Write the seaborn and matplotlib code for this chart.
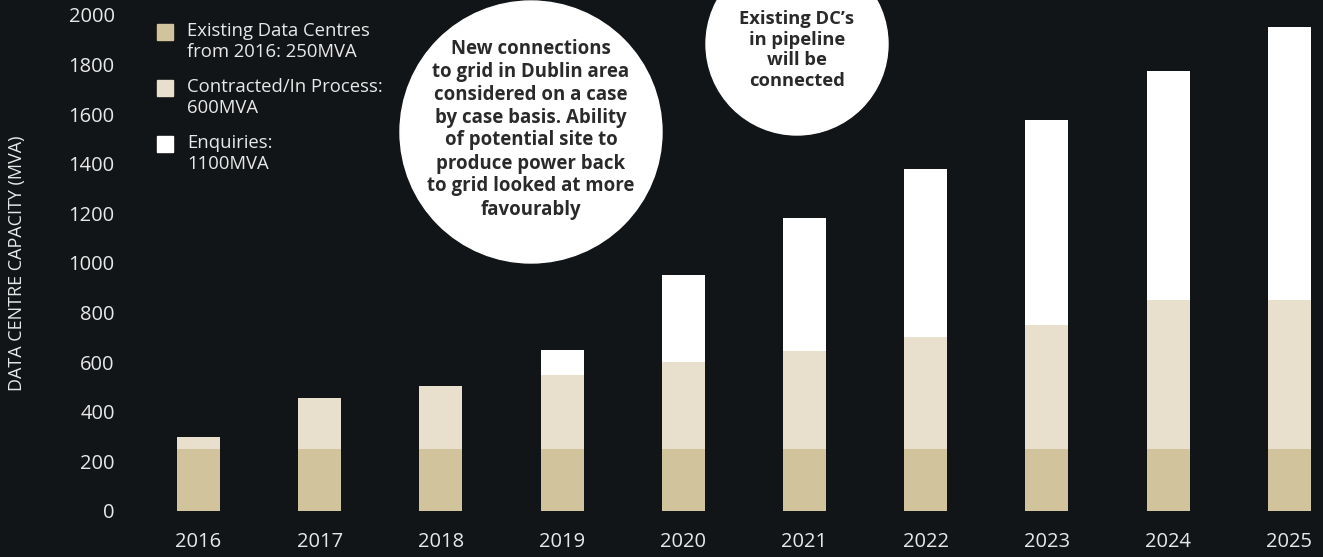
import matplotlib.pyplot as plt
import seaborn as sns
import pandas as pd
from matplotlib.patches import Circle, Rectangle

# values (MVA)
years = ['2016', '2017', '2018', '2019', '2020', '2021', '2022', '2023', '2024', '2025']
existing = [250, 250, 250, 250, 250, 250, 250, 250, 250, 250]
contracted = [50, 205, 255, 300, 350, 395, 450, 500, 600, 600]
enquiries = [0, 0, 0, 100, 350, 535, 680, 825, 925, 1100]

legend_labels = ['Existing Data Centres\nfrom 2016: 250MVA',
                 'Contracted/In Process:\n600MVA',
                 'Enquiries:\n1100MVA']
note_big = ('New connections\nto grid in Dublin area\nconsidered on a case\n'
            'by case basis. Ability\nof potential site to\nproduce power back\n'
            'to grid looked at more\nfavourably')
note_small = "Existing DC\u2019s\nin pipeline\nwill be\nconnected"

bg = '#121517'
c_exist = '#d1c39b'
c_contr = '#e8e0cd'
c_enq = '#ffffff'
txt = '#e8e8e8'

df = pd.DataFrame({'year': years, 'existing': existing,
                   'contracted': contracted, 'enquiries': enquiries})
df['lvl2'] = df['existing'] + df['contracted']
df['lvl3'] = df['lvl2'] + df['enquiries']

sns.set_style('dark', {'axes.facecolor': bg, 'figure.facecolor': bg})
plt.rcParams['font.family'] = ['Open Sans', 'DejaVu Sans']

W, H = 1323, 557
fig = plt.figure(figsize=(W / 100, H / 100), dpi=100)
ax = fig.add_axes([130 / W, (H - 511) / H, (W - 130) / W, 511 / H])

# stacked bars: draw cumulative heights, tallest first
for col, color in [('lvl3', c_enq), ('lvl2', c_contr), ('existing', c_exist)]:
    sns.barplot(data=df, x='year', y=col, color=color, saturation=1,
                width=0.355, linewidth=0, ax=ax, zorder=2)

ax.set_xlim(-0.565, 9.278)
ax.set_ylim(0, 2060)
ax.set_yticks(range(0, 2001, 200))
ax.tick_params(axis='y', length=0, pad=11, labelsize=14.5, labelcolor=txt)
ax.tick_params(axis='x', length=0, pad=15, labelsize=14.5, labelcolor=txt)
ax.set_xlabel('')
ax.set_ylabel('DATA CENTRE CAPACITY (MVA)', fontsize=13, color=txt)
ax.yaxis.set_label_coords(-0.087, 0.485)
ax.grid(False)
for s in ax.spines.values():
    s.set_visible(False)

# legend drawn by hand (pixel positions from the reference)
leg_colors = [c_exist, c_contr, c_enq]
leg_rows = [32, 88, 144]
for lab, col, yc in zip(legend_labels, leg_colors, leg_rows):
    fig.patches.append(Rectangle((157 / W, (H - yc - 8) / H), 16 / W, 16 / H,
                                 transform=fig.transFigure, color=col))
    fig.text(187 / W, (H - yc + 10) / H, lab, fontsize=13.3, color=txt,
             va='top', ha='left', linespacing=1.22)

# annotation circles
for (cx, cy, r) in [(531, 132, 131), (797, 44, 91)]:
    fig.patches.append(Circle((cx / 100, (H - cy) / 100), r / 100,
                              transform=fig.dpi_scale_trans, color='white',
                              zorder=5))
fig.text(531 / W, (H - 129) / H, note_big, fontsize=13.4, fontweight='bold',
         color='#2a2a2a', ha='center', va='center', linespacing=1.2, zorder=6)
fig.text(797 / W, (H - 50) / H, note_small, fontsize=13.2, fontweight='bold',
         color='#2a2a2a', ha='center', va='center', linespacing=1.2, zorder=6)

fig.savefig('out.png', dpi=100, facecolor=bg)
